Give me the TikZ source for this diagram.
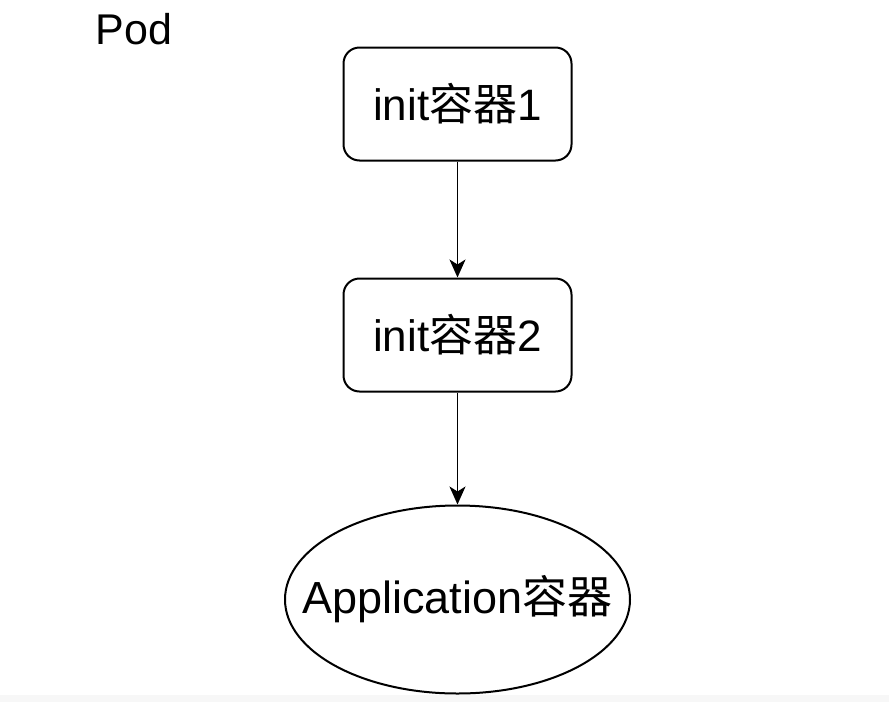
\documentclass[tikz,border=0pt]{standalone}
\usepackage{fontspec}
\setmainfont{Liberation Sans}
\newfontfamily\cjk{Noto Sans CJK SC}
\usepackage{tikz}
\usetikzlibrary{arrows.meta,positioning,shapes.geometric}

\begin{document}
\begin{tikzpicture}[->,>={Stealth[length=18pt,width=16pt,inset=5pt]},line width=1.6pt,node distance=116pt,
  box node/.style={rectangle,rounded corners=16pt,draw,line width=2pt,minimum width=228pt,minimum height=113pt,font=\fontsize{44}{50}\selectfont},
  app node/.style={ellipse,draw,line width=2pt,inner xsep=-35pt,inner ysep=0pt,minimum width=345pt,minimum height=188pt,font=\fontsize{45}{50}\selectfont}]
  \useasboundingbox (0,0) rectangle (889pt,-702pt);
  \fill[black!3,draw=none] (0,-695pt) rectangle (889pt,-702pt);
  \node[anchor=base west,inner sep=0pt,font=\fontsize{43}{50}\selectfont] (pod) at (95pt,-44pt) {Pod};
  \node[box node] (init1) at (457.5pt,-104pt) {init{\cjk 容器}1};
  \node[box node] (init2) [below=of init1] {init{\cjk 容器}2};
  \node[app node] (app) [below=112pt of init2] {Application{\cjk 容器}};

  \path
  (init1) edge (init2)
  (init2) edge (app);
\end{tikzpicture}
\end{document}
